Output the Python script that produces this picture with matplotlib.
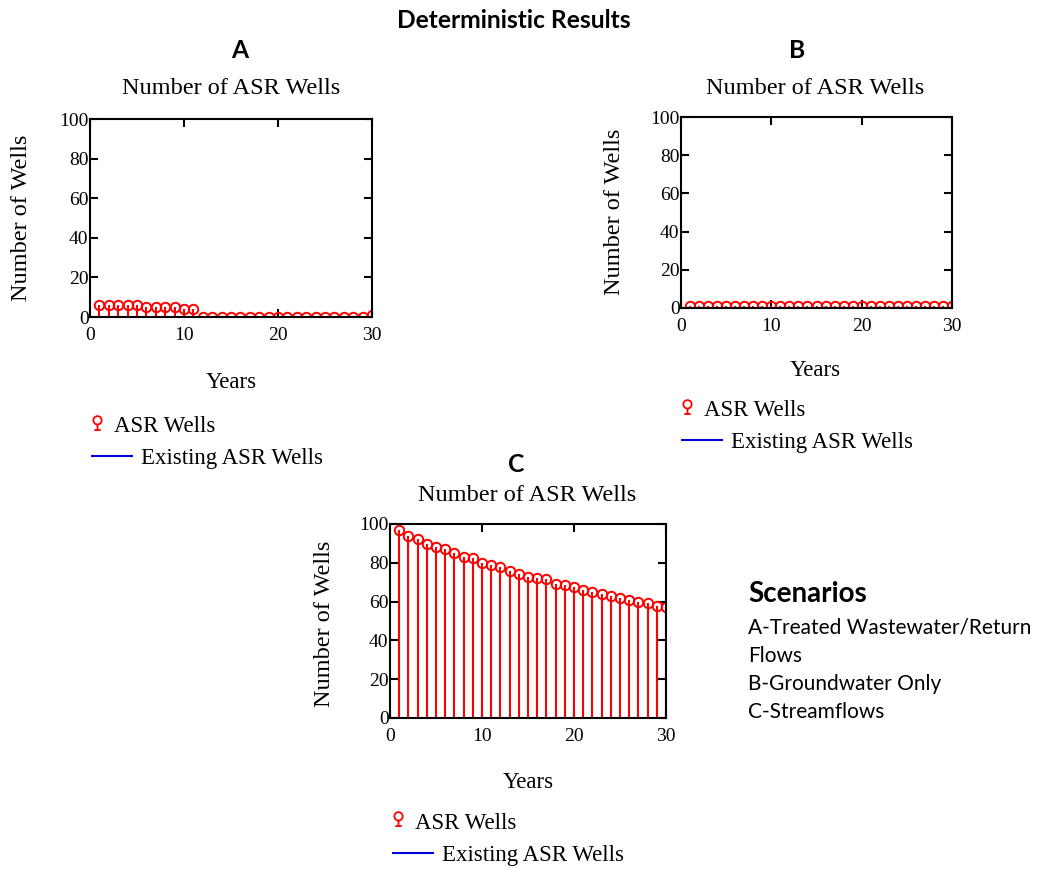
import numpy as np
import matplotlib
matplotlib.use('Agg')
import matplotlib.pyplot as plt
from matplotlib.lines import Line2D
from matplotlib.path import Path

# years of the simulation
years = list(range(1, 31))
years_existing = list(range(0, 31))

# ASR wells needed per scenario
wells_a = [6, 6, 6, 6, 6, 5, 5, 5, 5, 4, 4] + [0] * 18 + [1]
wells_b = [1] * 30
wells_c = [97, 93.8, 92.4, 89.8, 88.4, 87, 85.3, 82.9, 82.4, 79.8,
           79, 77.6, 76, 74.3, 72.9, 72.4, 71.4, 69, 68.3, 67.4,
           65.9, 64.8, 64.1, 63.1, 61.7, 60.9, 60, 59.5, 57.9, 57.1]
existing = [0] * 31

scenario_lines = ['A-Treated Wastewater/Return', 'Flows',
                  'B-Groundwater Only', 'C-Streamflows']

W, H = 1037, 869
SERIF = 'Liberation Serif'
SANS = 'Lato'
LEG_FS = 16.5

fig = plt.figure(figsize=(W / 100, H / 100), dpi=100)


def px(x, y):
    return x / W, 1 - y / H


def box(l, t, r, b):
    return [l / W, 1 - b / H, (r - l) / W, (b - t) / H]


# stem-like legend symbol: circle with a stem under it
_circ = Path.circle((0, 0.45), 0.45)
_stem = Path([(0, 0), (0, -0.6), (-0.35, -0.6), (0.35, -0.6)],
             [Path.MOVETO, Path.LINETO, Path.MOVETO, Path.LINETO])
stem_marker = Path.make_compound_path(_circ, _stem)


def panel(rect, values, title_xy, years_xy, ylab_xy, leg_xy):
    ax = fig.add_axes(rect)
    ax.vlines(years, 0, values, color='red', lw=1.5)
    ax.plot(years, values, 'o', mfc='none', mec='red', ms=6.8, mew=1.4)
    ax.plot(years_existing, existing, color='#0000dd', lw=2)
    ax.set_xlim(0, 30)
    ax.set_ylim(0, 100)
    ax.set_xticks([0, 10, 20, 30])
    ax.set_yticks([0, 20, 40, 60, 80, 100])
    ax.tick_params(direction='in', top=True, right=True, length=6, width=1.5,
                   labelsize=14)
    ax.tick_params(axis='x', pad=7)
    ax.tick_params(axis='y', pad=1)
    for lab in ax.get_xticklabels() + ax.get_yticklabels():
        lab.set_fontfamily(SERIF)
    for s in ax.spines.values():
        s.set_linewidth(1.5)
    fig.text(*px(*title_xy), 'Number of ASR Wells', family=SERIF, size=17.5,
             ha='center', va='center')
    fig.text(*px(*years_xy), 'Years', family=SERIF, size=16.5,
             ha='center', va='center')
    fig.text(*px(*ylab_xy), 'Number of Wells', family=SERIF, size=17.5,
             ha='center', va='center', rotation=90)
    lx, ly = leg_xy
    h1 = Line2D([], [], ls='none', marker=stem_marker, mfc='none', mec='red',
                ms=12, mew=1.3)
    h2 = Line2D([], [], color='#0000dd', lw=1.5)
    fig.legend([h1], ['ASR Wells'], loc='center left',
               bbox_to_anchor=px(lx - 4, ly), frameon=False,
               borderaxespad=0, borderpad=0,
               handlelength=0.8, handletextpad=0.35,
               prop={'family': SERIF, 'size': LEG_FS})
    fig.legend([h2], ['Existing ASR Wells'], loc='center left',
               bbox_to_anchor=px(lx, ly + 32), frameon=False,
               borderaxespad=0, borderpad=0,
               handlelength=1.75, handletextpad=0.4,
               prop={'family': SERIF, 'size': LEG_FS})
    return ax


panel(box(90, 119, 372, 317), wells_a, (231, 88), (231, 382), (22, 218), (92, 426))
panel(box(681, 117, 952, 308), wells_b, (815, 88), (815, 370), (614, 212), (682, 410))
panel(box(390, 524, 666, 718), wells_c, (527, 495), (528, 782), (325, 624), (393, 823))

fig.text(*px(514, 20), 'Deterministic Results', family=SANS, weight='bold',
         size=17.7, ha='center', va='center')
fig.text(*px(240, 50), 'A', family=SANS, weight='bold', size=17.7,
         ha='center', va='center')
fig.text(*px(797, 50), 'B', family=SANS, weight='bold', size=17.7,
         ha='center', va='center')
fig.text(*px(516, 465), 'C', family=SANS, weight='bold', size=17.7,
         ha='center', va='center')

fig.text(*px(748, 594), 'Scenarios', family=SANS, weight='bold', size=20,
         ha='left', va='center')
for i, line in enumerate(scenario_lines):
    fig.text(*px(748, 628 + i * 28), line, family=SANS, size=15,
             ha='left', va='center')

fig.savefig('out.png', dpi=100)
